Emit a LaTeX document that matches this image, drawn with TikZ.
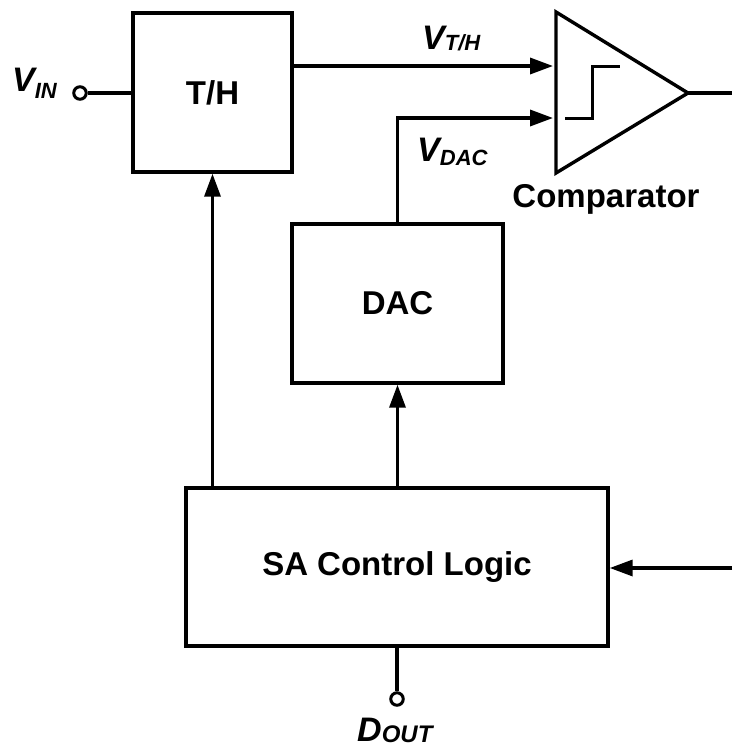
\documentclass[tikz,border=0pt]{standalone}
\usepackage{fontspec}
\setmainfont{Liberation Sans}
\usetikzlibrary{arrows.meta}
\begin{document}
\begin{tikzpicture}[x=1pt,y=-1pt,
  wire/.style={line width=3.4pt},
  blk/.style={draw,line width=3.4pt,rectangle,inner sep=0pt,font=\fontsize{33}{33}\selectfont\bfseries},
  arr/.style={wire,-{Triangle[length=23pt,width=16pt]}},
  lbl/.style={inner sep=0pt,font=\fontsize{34}{34}\selectfont\bfseries\itshape},
  pin/.style={draw,circle,line width=3pt,minimum size=12.5pt,inner sep=0pt,fill=white},
]
\useasboundingbox (0,0) rectangle (732,747);
% blocks
\node[blk,minimum width=159pt,minimum height=159pt] (th) at (212.5,92.5) {T/H};
\node[blk,minimum width=211pt,minimum height=159pt] (dac) at (397.5,303.5) {DAC};
\node[blk,minimum width=422pt,minimum height=158pt] (sa) at (397,567) {SA Control Logic};
% comparator
\coordinate (ct) at (556,12);
\coordinate (cb) at (556,173);
\coordinate (co) at (688,93);
\coordinate (cin1) at (553,66);
\coordinate (cin2) at (553,118);
\coordinate (outR) at (732,93);
\coordinate (inR) at (732,568);
\draw[wire,line join=miter] (ct) -- (co) -- (cb) -- cycle;
\draw[line width=3pt] (565,118) -- (592,118) -- (592,66) -- (620,66);
\draw[wire] (co) -- (outR);
\node[font=\fontsize{33}{33}\selectfont\bfseries,anchor=base,inner sep=0pt] (cmplbl) at (606,207) {Comparator};
% pins
\node[pin] (vin) at (80,93) {};
\node[pin] (dout) at (397,699) {};
% connectors
\draw[wire] (vin.east) -- (vin.east -| th.west);
\draw[arr] (th.east |- cin1) -- (cin1);
\draw[arr] (dac.north) -- (dac.north |- cin2) -- (cin2);
\draw[arr] (sa.north -| dac.south) -- (dac.south);
\draw[arr] (sa.north -| th.south) -- (th.south);
\draw[arr] (inR) -- (sa.east |- inR);
\draw[wire] (sa.south -| dout) -- (dout.north);
% labels
\node[lbl,anchor=base west] (lvin) at (12,91) {V\raisebox{-7pt}{\fontsize{22}{22}\selectfont IN}};
\node[lbl,anchor=base west] (lvth) at (422,49) {V\raisebox{-1pt}{\fontsize{22}{22}\selectfont T/H}};
\node[lbl,anchor=base west] (lvdac) at (417,161) {V\raisebox{-4pt}{\fontsize{22}{22}\selectfont DAC}};
\node[lbl,anchor=base west] (ldout) at (357,741) {D\raisebox{-1pt}{\fontsize{24}{24}\selectfont OUT}};
\end{tikzpicture}
\end{document}
